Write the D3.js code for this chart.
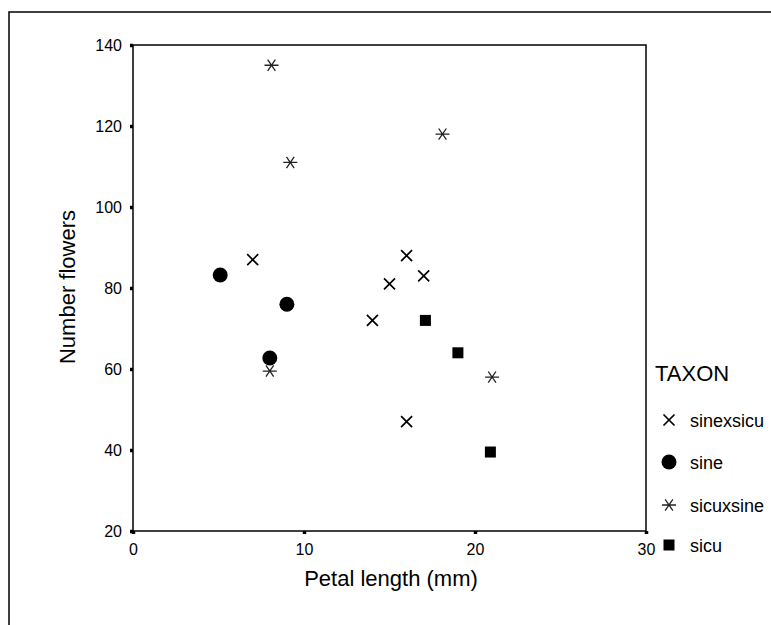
<!DOCTYPE html>
<html><head><meta charset="utf-8">
<script src="https://cdn.jsdelivr.net/npm/d3@7"></script>
<style>body{margin:0;background:#fff}svg text{font-family:"Liberation Sans",Arial,sans-serif;fill:#000}</style>
</head><body>
<script>
const taxa = ["sinexsicu","sine","sicuxsine","sicu"];
const sinexsicuX = [7, 14, 15, 16, 17, 16];
const sinexsicuY = [87, 72, 81, 88, 83, 47];
const sineX = [5.1, 9, 8];
const sineY = [83.2, 76, 62.7];
const sicuxsineX = [8.1, 9.2, 18.1, 8, 21];
const sicuxsineY = [135, 111, 118, 59.5, 58];
const sicuX = [17.1, 19, 20.9];
const sicuY = [72, 64, 39.5];
const xTicks = [0, 10, 20, 30];
const yTicks = [20, 40, 60, 80, 100, 120, 140];

const series = [
  {name: taxa[0], xs: sinexsicuX, ys: sinexsicuY},
  {name: taxa[1], xs: sineX, ys: sineY},
  {name: taxa[2], xs: sicuxsineX, ys: sicuxsineY},
  {name: taxa[3], xs: sicuX, ys: sicuY}
];

const W = 771, H = 625;
const svg = d3.select("body").append("svg").attr("width", W).attr("height", H);

svg.append("path").attr("d", `M9,${H} L9,12 L${W},12`).attr("fill","none").attr("stroke","#000").attr("stroke-width",1.5);

const L = 133, R = 646, T = 45, B = 531;
const x = d3.scaleLinear().domain([0, 30]).range([L, R]);
const y = d3.scaleLinear().domain([20, 140]).range([B, T]);

svg.append("rect").attr("x", L).attr("y", T).attr("width", R - L).attr("height", B - T)
  .attr("fill","none").attr("stroke","#000").attr("stroke-width",1.5);

const xAxis = svg.append("g").attr("transform", `translate(0,${B})`)
  .call(d3.axisBottom(x).tickValues(xTicks).tickSize(3).tickPadding(10).tickFormat(d3.format("d")));
const yAxis = svg.append("g").attr("transform", `translate(${L},0)`)
  .call(d3.axisLeft(y).tickValues(yTicks).tickSize(3).tickPadding(8).tickFormat(d3.format("d")));
[xAxis, yAxis].forEach(a => {
  a.select(".domain").remove();
  a.selectAll(".tick line").attr("stroke","#000").attr("stroke-width",3.5);
  a.selectAll(".tick text").style("font-size","16px").style("font-family","'Liberation Sans',Arial,sans-serif");
});

svg.append("text").attr("x", 391).attr("y", 586).attr("text-anchor","middle")
  .style("font-size","22px").text("Petal length (mm)");
svg.append("text").attr("transform", `translate(75,287) rotate(-90)`).attr("text-anchor","middle")
  .style("font-size","22px").text("Number flowers");

function drawMarker(g, type, cx, cy) {
  if (type === 0) {
    const h = 5.5;
    g.append("path").attr("d", `M${cx-h},${cy-h}L${cx+h},${cy+h}M${cx-h},${cy+h}L${cx+h},${cy-h}`)
      .attr("stroke","#000").attr("stroke-width",1.7).attr("fill","none");
  } else if (type === 1) {
    g.append("circle").attr("cx", cx).attr("cy", cy).attr("r", 7.5).attr("fill","#000");
  } else if (type === 2) {
    const h = 7;
    g.append("path").attr("d", `M${cx-h},${cy}L${cx+h},${cy}M${cx-h*0.55},${cy-h*0.8}L${cx+h*0.55},${cy+h*0.8}M${cx-h*0.55},${cy+h*0.8}L${cx+h*0.55},${cy-h*0.8}`)
      .attr("stroke","#222").attr("stroke-width",1.3).attr("fill","none");
  } else {
    g.append("rect").attr("x", cx - 5.5).attr("y", cy - 5.5).attr("width", 11).attr("height", 11).attr("fill","#000");
  }
}

const pts = svg.append("g");
series.forEach((s, i) => {
  s.xs.forEach((xv, j) => drawMarker(pts, i, x(xv), y(s.ys[j])));
});

const lg = svg.append("g");
lg.append("text").attr("x", 655).attr("y", 381).style("font-size","22px").text("TAXON");
const ly = [420, 462, 505, 545];
series.forEach((s, i) => {
  drawMarker(lg, i, 669, ly[i]);
  lg.append("text").attr("x", 690).attr("y", ly[i] + 7).style("font-size","18px").text(s.name);
});
</script>
</body></html>
